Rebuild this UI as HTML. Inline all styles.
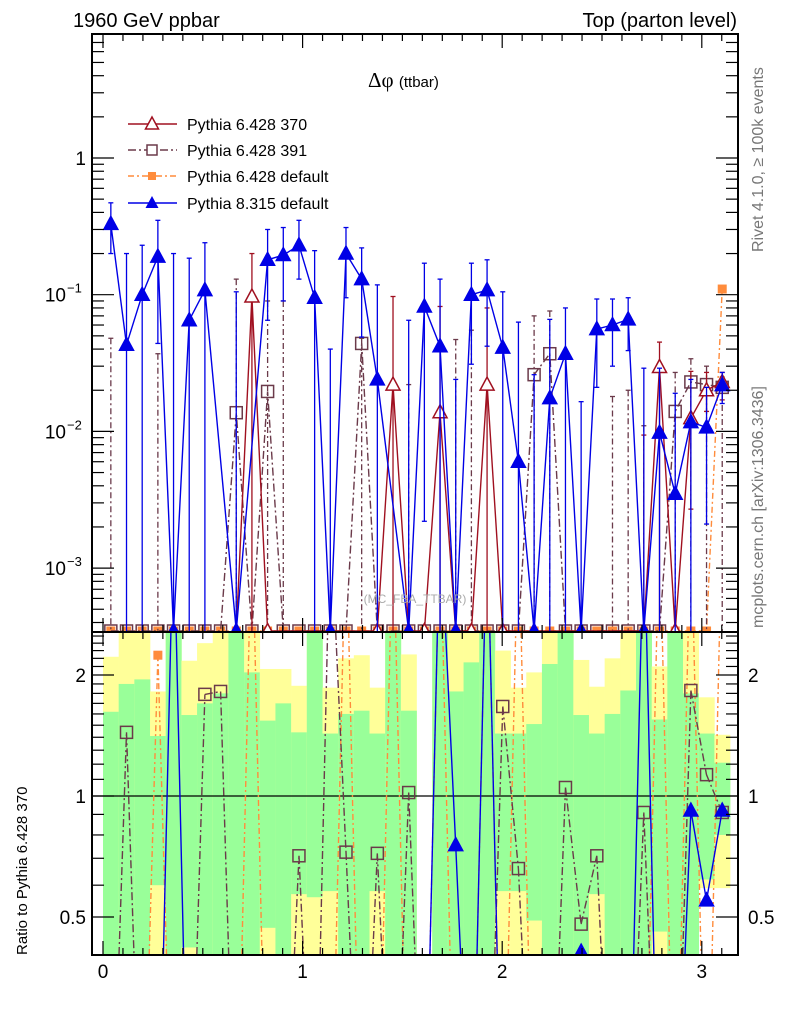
<!DOCTYPE html>
<html><head><meta charset="utf-8">
<style>
html,body{margin:0;padding:0;background:#fff;overflow:hidden;width:786px;height:1024px;position:relative;}
svg{display:block;position:absolute;left:0;top:0;font-family:"Liberation Sans","DejaVu Sans",sans-serif;}
</style></head>
<body>
<svg id="chart" width="786" height="1024" viewBox="0 0 786 1024" xmlns="http://www.w3.org/2000/svg">
<defs>
<clipPath id="clipMain"><rect x="92" y="34" width="646" height="598"/></clipPath>
<clipPath id="clipRatio"><rect x="92" y="632" width="646" height="323"/></clipPath>
</defs>
<g id="bands" clip-path="url(#clipRatio)"></g>
<g id="ratioSeries" clip-path="url(#clipRatio)"></g>
<g id="mainSeries" clip-path="url(#clipMain)"></g>
<g id="axes"></g>

<text x="73" y="27" font-size="20">1960 GeV ppbar</text>
<text x="737" y="27" font-size="20" text-anchor="end">Top (parton level)</text>
<text x="368" y="87" font-size="21" font-family="Liberation Serif, serif">Δφ <tspan font-size="15" font-family="Liberation Sans, sans-serif">(ttbar)</tspan></text>
<text x="415" y="603" font-size="12" fill="#aaa" text-anchor="middle">(MC_FBA_TTBAR)</text>
<text transform="translate(763,252) rotate(-90)" font-size="16" fill="#777">Rivet 4.1.0, ≥ 100k events</text>
<text transform="translate(763,628) rotate(-90)" font-size="16" fill="#777">mcplots.cern.ch [arXiv:1306.3436]</text>
<text transform="translate(27,955) rotate(-90)" font-size="15">Ratio to Pythia 6.428 370</text>

<g id="legend">
 <g>
  <line x1="128" y1="124" x2="177" y2="124" stroke="#a01020" stroke-width="1.5"/>
  <polygon points="152,117 158.5,129 145.5,129" fill="#fff" stroke="#a01020" stroke-width="1.5"/>
  <text x="187" y="130" font-size="16">Pythia 6.428 370</text>
 </g>
 <g>
  <line x1="128" y1="150" x2="177" y2="150" stroke="#6b3a4a" stroke-width="1.5" stroke-dasharray="8,3,2,3"/>
  <rect x="147" y="145" width="10" height="10" fill="#fff" stroke="#6b3a4a" stroke-width="1.5"/>
  <text x="187" y="156" font-size="16">Pythia 6.428 391</text>
 </g>
 <g>
  <line x1="128" y1="176" x2="177" y2="176" stroke="#ff8c3c" stroke-width="1.5" stroke-dasharray="6,3,2,3"/>
  <rect x="148" y="172" width="8" height="8" fill="#ff8c3c"/>
  <text x="187" y="182" font-size="16">Pythia 6.428 default</text>
 </g>
 <g>
  <line x1="128" y1="203" x2="177" y2="203" stroke="#0000e6" stroke-width="1.5"/>
  <polygon points="152,196 158.5,208 145.5,208" fill="#0000e6"/>
  <text x="187" y="209" font-size="16">Pythia 8.315 default</text>
 </g>
</g>
</svg>
<script>
// ---- data (40 bins, 0..pi) ----
const nBins = 40;
const xTicks = [0, 1, 2, 3];
const p8Vals = [0.33,0.043,0.10,0.19,0,0.065,0.108,null,0,null,0.18,0.195,0.23,0.095,0,0.2,0.13,0.024,null,0,0.082,0.042,0,0.1,0.108,0.041,0.006,0,0.0175,0.037,0,0.056,0.06,0.066,0,0.0098,0.0035,0.0117,0.0107,0.0218];
const p8Hi = [0.47,0.2,0.23,0.35,0.2,0.185,0.24,null,0.105,null,0.3,0.31,0.35,0.21,0.04,0.31,0.22,0.118,null,0.065,0.17,0.13,0.024,0.17,0.18,0.105,0.063,0.026,0.066,0.08,0.0165,0.093,0.093,0.095,0.029,0.029,0.019,0.024,0.021,0.027];
const p8Lo = [0.2,0,0,0.044,0,0,0,null,0,null,0.065,0.09,0.13,0,0,0.095,0.049,0,null,0,0.0022,0,0,0.031,0.042,0,0,0,0,0,0,0.021,0.03,0.039,0,0,0,0,0.0021,0.016];
const p370Vals = [null,null,null,null,null,null,null,null,0,0.097,0,null,null,null,null,null,null,0,0.022,0,0,0.0138,0,0,0.022,0,null,null,null,null,null,null,null,null,0,0.0296,0,0.0125,0.02,0.023];
const p370Hi = [null,null,null,null,null,null,null,null,null,0.2,null,null,null,null,null,null,null,null,0.097,null,null,0.082,null,null,0.08,null,null,null,null,null,null,null,null,null,0.0094,0.045,null,0.0275,0.027,0.027];
const p370Lo = [null,null,null,null,null,null,null,null,null,0,null,null,null,null,null,null,null,null,0,null,null,0,null,null,0,null,null,null,null,null,null,null,null,null,0,0,null,0.0027,0.014,0.017];
const p391Vals = [0,0,0,0,0,0,0,0,0.0137,0,0.0196,0,0,0,0,0,0.044,0,0,0,0,0,0,0,0,0,0,0.026,0.037,0,0,0,0,0,0,0,0.014,0.023,0.022,0.021];
const p391Hi = [0.048,null,null,0.037,null,null,null,null,0.13,null,0.09,0.09,null,null,null,null,0.048,null,null,0.022,null,null,0.047,0.055,null,null,null,0.07,0.076,null,null,null,0.018,0.02,0.011,null,0.027,0.034,0.03,0.025];
const p6defVals = [0,0,0,0,0,0,0,0,0,0,0,0,0,0,0,0,0,0,0,0,0,0,0,0,0,0,0,0,0,0,0,0,0,0,0,0,0,0,0,0.11];
// ratio panel
const ratio391 = [0.1,1.44,0.1,0.1,0.1,0.1,1.79,1.82,0.1,0.1,0.1,0.1,0.71,0.1,5,0.725,0.1,0.72,0.1,1.02,0.1,0.1,0.1,0.1,0.1,1.67,0.66,0.1,0.1,1.05,0.48,0.71,0.1,0.1,0.91,0.1,0.1,1.83,1.13,0.91];
const ratioP8 = [0.1,0.3,0.1,0.1,5,0.1,0.1,0.1,0.1,0.1,0.1,0.1,0.1,0.3,0.1,0.1,0.1,0.1,0.1,0.1,0.1,5,0.755,0.1,5,0.1,0.1,0.1,0.3,0.3,0.41,0.1,0.1,0.1,5,0.1,0.1,0.92,0.55,0.92];
const ratioP6def = [0.1,0.1,0.1,2.24,0.1,0.1,0.1,0.1,0.1,5,0.1,0.1,0.1,0.1,0.1,5,0.1,0.1,5,0.1,0.1,5,0.1,0.1,5,0.1,5,0.1,0.1,0.1,0.1,0.1,0.1,0.1,0.1,5,0.1,5,0.1,5];
const yellowHi = [2.22,3,3,1.82,3,2.17,2.4,3,3,3,2.07,2.07,1.88,3,1.86,2.2,2.24,1.86,3,2.25,null,3,3,3,3,2.3,1.86,2.03,3,3,2.18,1.87,2.2,3,3,2.1,3,3,1.76,1.42];
const greenHi = [1.62,1.9,1.95,1.41,3,1.59,1.7,1.8,3,2.03,1.54,1.7,1.44,3,1.43,1.6,1.63,1.43,3,1.63,null,3,1.82,2.15,3,1.43,1.43,1.51,2.13,3,1.59,1.43,1.6,1.83,3,1.55,3,1.8,1.43,1.21];
const greenLo = [0.3,0.3,0.3,0.6,0.3,0.42,0.3,0.3,0.3,0.3,0.47,0.3,0.57,0.56,0.58,0.3,0.3,0.58,0.3,0.3,null,0.3,0.3,0.3,0.3,0.58,0.58,0.49,0.3,0.3,0.3,0.57,0.3,0.3,0.3,0.46,0.3,0.3,0.62,0.8];
const yellowLo = [0.3,0.3,0.3,0.3,0.3,0.3,0.3,0.3,0.3,0.3,0.3,0.3,0.3,0.3,0.3,0.3,0.3,0.3,0.3,0.3,null,0.3,0.3,0.3,0.3,0.3,0.3,0.3,0.3,0.3,0.3,0.3,0.3,0.3,0.3,0.3,0.3,0.3,0.59,0.59];

// ---- scales ----
const NS = "http://www.w3.org/2000/svg";
const X0 = 103, XU = 199.6;
const RT = 632, RB = 955;
function xs(v){ return X0 + v*XU; }
function binW(){ return Math.PI/nBins; }
function xc(i){ return xs((i+0.5)*binW()); }
function ym(v){ if(v===0) return 631; return 158 - 136.7*Math.log10(v); }
function yr(v){ return 796 - 402*Math.log10(v); }
function yrc(v){ return Math.max(RT, Math.min(RB, yr(v))); }
function mk(tag, attrs, parent){
  const e = document.createElementNS(NS, tag);
  for (const k in attrs) e.setAttribute(k, attrs[k]);
  parent.appendChild(e); return e;
}

// ---- bands ----
const gB = document.getElementById('bands');
for (let i=0;i<nBins;i++){
  if (yellowHi[i]==null) continue;
  const x1 = xs(i*binW()), w = xs((i+1)*binW())-x1;
  const r1 = mk('rect',{x:x1,y:yrc(yellowHi[i]),width:w+0.3,height:yrc(yellowLo[i])-yrc(yellowHi[i]),fill:'#ffff99'},gB);
  
  
  const r2 = mk('rect',{x:x1,y:yrc(greenHi[i]),width:w+0.3,height:yrc(greenLo[i])-yrc(greenHi[i]),fill:'#99ff99'},gB);
  
  
}
mk('line',{x1:92,y1:yr(1),x2:738,y2:yr(1),stroke:'#000','stroke-width':1.2},gB);

// ---- series helpers ----
function drawLine(vals, yf, g, color, dash, name){
  let pts=[];
  for(let i=0;i<nBins;i++){ if(vals[i]!=null) pts.push(xc(i).toFixed(1)+','+yf(vals[i]).toFixed(1)); }
  const a = {points:pts.join(' '),fill:'none',stroke:color,'stroke-width':1.4};
  if(dash) a['stroke-dasharray']=dash;
  const p = mk('polyline',a,g);
  
  
}
// ratio line: segments clipped to panel in geometry
function drawRatioLine(vals, g, color, dash, name){
  let pts=[];
  for(let i=0;i<nBins;i++){ if(vals[i]!=null) pts.push([xc(i), yr(vals[i])]); }
  let d='';
  for(let k=0;k<pts.length-1;k++){
    let [x1,y1]=pts[k], [x2,y2]=pts[k+1];
    if((y1<RT&&y2<RT)||(y1>RB&&y2>RB)) continue;
    const clip=(xa,ya,xb,yb)=>{
      if(ya<RT){ const t=(RT-ya)/(yb-ya); return [xa+t*(xb-xa),RT]; }
      if(ya>RB){ const t=(RB-ya)/(yb-ya); return [xa+t*(xb-xa),RB]; }
      return [xa,ya];
    };
    const p1=clip(x1,y1,x2,y2), p2=clip(x2,y2,x1,y1);
    d+='M'+p1[0].toFixed(1)+','+p1[1].toFixed(1)+'L'+p2[0].toFixed(1)+','+p2[1].toFixed(1);
  }
  const a={d:d||'M0,0',fill:'none',stroke:color,'stroke-width':1.4};
  if(dash) a['stroke-dasharray']=dash;
  const p=mk('path',a,g);
  
  
}
function drawErr(vals, hi, lo, yf, g, color, dash){
  for(let i=0;i<nBins;i++){
    if(hi[i]==null) continue;
    const x=xc(i), yt=yf(hi[i]), yb=(lo && lo[i]!=null)? yf(lo[i]) : 632;
    const a={x1:x,y1:yt,x2:x,y2:yb,stroke:color,'stroke-width':1.3};
    if(dash) a['stroke-dasharray']=dash;
    const l=mk('line',a,g);
    
    
    mk('line',{x1:x-2.5,y1:yt,x2:x+2.5,y2:yt,stroke:color,'stroke-width':1.3},g);
    if(lo && lo[i]) mk('line',{x1:x-2.5,y1:yb,x2:x+2.5,y2:yb,stroke:color,'stroke-width':1.3},g);
  }
}
function marker(type, x, y, color, g, name){
  let e;
  if(type==='tri-open'||type==='tri'){
    e=mk('polygon',{points:`${x},${y-7.5} ${x+7},${y+5.5} ${x-7},${y+5.5}`,fill:type==='tri'?color:'#fff',stroke:color,'stroke-width':1.5},g);
  } else if(type==='sq-open'){
    e=mk('rect',{x:x-6,y:y-6,width:12,height:12,fill:'none',stroke:color,'stroke-width':1.5},g);
  } else {
    e=mk('rect',{x:x-4.5,y:y-4.5,width:9,height:9,fill:color},g);
  }
  
  
}
function drawMarkers(vals, yf, g, type, color, name, lim){
  for(let i=0;i<nBins;i++){
    const v=vals[i]; if(v==null) continue;
    const y=yf(v);
    if(lim && (y<lim[0]-3 || y>lim[1]+3)) continue;
    marker(type, xc(i), y, color, g, name);
  }
}

// ---- main panel ----
const gM = document.getElementById('mainSeries');
const C370='#a01020', C391='#6b3a4a', CDEF='#ff8c3c', CP8='#0000e6';
drawLine(p6defVals, ym, gM, CDEF, '6,3,2,3', 'line-p6-default');
drawMarkers(p6defVals, ym, gM, 'sq', CDEF, 'point-p6-default');
drawErr(p391Vals, p391Hi, null, ym, gM, C391, '6,3,2,3');
drawLine(p391Vals, ym, gM, C391, '8,3,2,3', 'line-p6-391');
drawMarkers(p391Vals, ym, gM, 'sq-open', C391, 'point-p6-391');
drawErr(p370Vals, p370Hi, p370Lo, ym, gM, C370);
drawLine(p370Vals, ym, gM, C370, null, 'line-p6-370');
drawMarkers(p370Vals, ym, gM, 'tri-open', C370, 'point-p6-370');
drawErr(p8Vals, p8Hi, p8Lo, ym, gM, CP8);
drawLine(p8Vals, ym, gM, CP8, null, 'line-p8-default');
drawMarkers(p8Vals, ym, gM, 'tri', CP8, 'point-p8-default');

// ---- ratio panel ----
const gR = document.getElementById('ratioSeries');
drawRatioLine(ratioP6def, gR, CDEF, '6,3,2,3', 'ratio-line-p6-default');
drawMarkers(ratioP6def, yr, gR, 'sq', CDEF, 'ratio-point-p6-default', [632,955]);
drawRatioLine(ratio391, gR, C391, '8,3,2,3', 'ratio-line-p6-391');
drawMarkers(ratio391, yr, gR, 'sq-open', C391, 'ratio-point-p6-391', [632,955]);
drawRatioLine(ratioP8, gR, CP8, null, 'ratio-line-p8-default');
drawMarkers(ratioP8, yr, gR, 'tri', CP8, 'ratio-point-p8-default', [632,955]);

// ---- axes ----
const gA = document.getElementById('axes');
mk('rect',{x:92,y:34,width:646,height:921,fill:'none',stroke:'#000','stroke-width':2},gA);
mk('line',{x1:92,y1:632,x2:738,y2:632,stroke:'#000','stroke-width':2},gA);
// x ticks
for(let k=0;k<=31;k++){
  const v=k/10, x=xs(v);
  if(x>737) break;
  const big = (k%10===0);
  const len = big?14:7;
  [[34,1],[632,-1],[632,1],[955,-1]].forEach(([y0,d])=>{
    mk('line',{x1:x,y1:y0,x2:x,y2:y0+d*len,stroke:'#000','stroke-width':1.2},gA);
  });
}
xTicks.forEach(v=>{
  const t=mk('text',{x:xs(v),y:978,'font-size':19,'text-anchor':'middle'},gA);
  t.textContent=String(v);
  
  
});
// main y ticks (log)
for(let d=-4; d<=0; d++){
  for(let m=1;m<=9;m++){
    const v=m*Math.pow(10,d), y=ym(v);
    if(y<35||y>631) continue;
    const len = m===1?22:12;
    mk('line',{x1:92,y1:y,x2:92+len,y2:y,stroke:'#000','stroke-width':1.2},gA);
    mk('line',{x1:738,y1:y,x2:738-len,y2:y,stroke:'#000','stroke-width':1.2},gA);
  }
}
const mainLabels=[[0,'1'],[-1,'10'],[-2,'10'],[-3,'10']];
mainLabels.forEach(([d,s])=>{
  const y=ym(Math.pow(10,d));
  const t=mk('text',{x:d===0?86:66,y:y+7,'font-size':19,'text-anchor':'end'},gA);
  t.textContent=s;
  
  
  if(d<0){
    const e=mk('text',{x:67,y:y-2,'font-size':13},gA);
    e.textContent='\u2212'+(-d);
  }
});
// ratio y ticks
const ratioTicks=[0.5,0.6,0.7,0.8,0.9,1,1.1,1.2,1.3,1.4,1.5,1.6,1.7,1.8,1.9,2,2.1,2.2,2.3,2.4,2.5];
ratioTicks.forEach(v=>{
  const y=yr(v); const big=(v===0.5||v===1||v===2);
  const len=big?22:12;
  mk('line',{x1:92,y1:y,x2:92+len,y2:y,stroke:'#000','stroke-width':1.2},gA);
  mk('line',{x1:738,y1:y,x2:738-len,y2:y,stroke:'#000','stroke-width':1.2},gA);
});
const ratioLabels=[2,1,0.5];
ratioLabels.forEach(v=>{
  const y=yr(v)+7;
  const t=mk('text',{x:86,y:y,'font-size':19,'text-anchor':'end'},gA);
  t.textContent=String(v);
  
  
  const t2=mk('text',{x:748,y:y,'font-size':19},gA);
  t2.textContent=String(v);
  
  
});
</script>
</body></html>
